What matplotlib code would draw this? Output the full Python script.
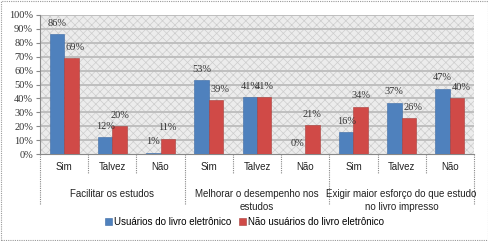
import matplotlib
matplotlib.use("Agg")
import matplotlib.pyplot as plt
from matplotlib.patches import Rectangle
import numpy as np

# dados
grupos = ["Facilitar os estudos", "Melhorar o desempenho nos\nestudos",
          "Exigir maior esforço do que estudo\nno livro impresso"]
respostas = ["Sim", "Talvez", "Não"]
usuarios = [86, 12, 1, 53, 41, 0, 16, 37, 47]
nao_usuarios = [69, 20, 11, 39, 41, 21, 34, 26, 40]
series = ["Usuários do livro eletrônico", "Não usuários do livro eletrônico"]

azul = "#4F81BD"
vermelho = "#D04A47"

plt.rcParams["hatch.linewidth"] = 0.5
fig = plt.figure(figsize=(4.89, 2.41), dpi=100)
ax = fig.add_axes([40 / 489, 1 - 154 / 241, 434 / 489, 139 / 241])

n = len(usuarios)
x = np.arange(n)
w = 0.3

# fundo hachurado
ax.set_facecolor("white")
ax.add_patch(Rectangle((0, 0), 1, 1, transform=ax.transAxes, facecolor="#ececec",
                       edgecolor="#cdcdcd", hatch="xxxx", lw=0, zorder=0))

for v in range(10, 101, 10):
    ax.axhline(v, color="#bcbcbc", lw=1.3, zorder=1)

b1 = ax.bar(x - w / 2, usuarios, w, color=azul, edgecolor="#3b6aa5", lw=0.4,
            label=series[0], zorder=3)
b2 = ax.bar(x + w / 2, nao_usuarios, w, color=vermelho, edgecolor="#a83e3b", lw=0.4,
            label=series[1], zorder=3)

for xi, v in zip(x - w / 2, usuarios):
    ax.annotate(f"{v}%", (xi, v), xytext=(0, 4.5), textcoords="offset points",
                ha="center", va="bottom", fontsize=7.5, family="Liberation Serif", color="#333333")
for xi, v, vb in zip(x + w / 2, nao_usuarios, usuarios):
    # rótulo deslocado quando a barra azul vizinha é mais alta
    dx = 3 if vb > v else 0
    ax.annotate(f"{v}%", (xi, v), xytext=(dx, 4.5), textcoords="offset points",
                ha="center", va="bottom", fontsize=7.5, family="Liberation Serif", color="#333333")

ax.set_xlim(-0.5, n - 0.5)
ax.set_ylim(0, 100)
ax.set_yticks(range(0, 101, 10))
ax.set_yticklabels([f"{v}%" for v in range(0, 101, 10)], family="Liberation Serif",
                   fontsize=7.5, color="#333333")
ax.tick_params(axis="y", length=3, pad=2, color="#888888")
ax.set_xticks([])
for s in ["top", "right"]:
    ax.spines[s].set_visible(False)
ax.spines["left"].set_color("#888888")
ax.spines["bottom"].set_color("#888888")

# rótulos de categoria
tr = ax.get_xaxis_transform()
for i in range(n):
    ax.text(i, -0.095, respostas[i % 3], transform=tr, ha="center", va="center",
            fontsize=7, family="Liberation Sans", color="#222222")
for g in range(len(grupos)):
    ax.text(3 * g + 1, -0.25, grupos[g], transform=tr, ha="center", va="top",
            fontsize=7, family="Liberation Sans", color="#222222", linespacing=1.35)
for i in range(n + 1):
    edge = i - 0.5
    low = -0.37 if i % 3 == 0 else -0.14
    ax.plot([edge, edge], [0, low], transform=tr, color="#888888", lw=0.8,
            ls=(0, (1, 1)), clip_on=False)

fig.legend(handles=[b1, b2], loc="center", bbox_to_anchor=(0.5, 1 - 222 / 241), ncol=2,
           frameon=False, handlelength=0.7, handleheight=0.7, handletextpad=0.2,
           columnspacing=0.8, prop={"family": "Liberation Sans", "size": 7})

fig.patches.append(Rectangle((0.002, 0.004), 0.995, 0.99, transform=fig.transFigure,
                             fill=False, edgecolor="#999999", lw=0.8, ls=(0, (1, 1))))

fig.savefig("out.png", dpi=100)
